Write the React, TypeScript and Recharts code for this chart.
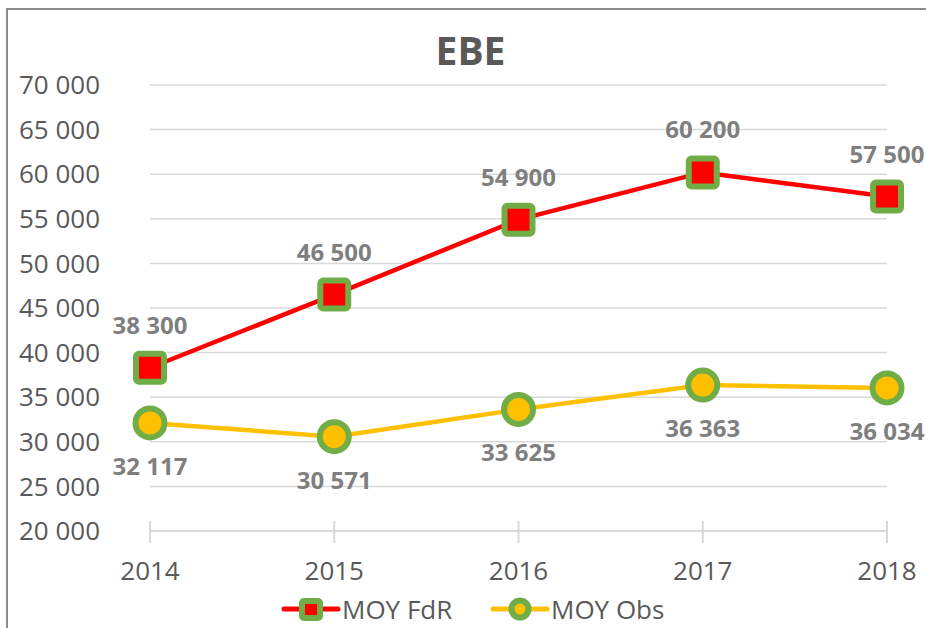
import React from 'react';
import { LineChart, Line, XAxis, YAxis, CartesianGrid, Legend, LabelList } from 'recharts';

const years = ['2014', '2015', '2016', '2017', '2018'];
const moyFdR = [38300, 46500, 54900, 60200, 57500];
const moyObs = [32117, 30571, 33625, 36363, 36034];
const yTicks = [20000, 25000, 30000, 35000, 40000, 45000, 50000, 55000, 60000, 65000, 70000];

const data = years.map((y, i) => ({ year: y, fdr: moyFdR[i], obs: moyObs[i] }));

const FONT = '"Open Sans", "Noto Sans", sans-serif';
const fmt = (v: number) => String(v).replace(/\B(?=(\d{3})+(?!\d))/g, ' ');

const GREEN = '#70AD47';
const RED = '#FF0000';
const YELLOW = '#FFC000';
const GRID = '#D9D9D9';

const SquareDot = (props: any) => {
  const { cx, cy } = props;
  if (cx == null || cy == null) return null;
  return <rect x={cx - 14} y={cy - 14} width={28} height={28} rx={3} fill={RED} stroke={GREEN} strokeWidth={6} />;
};

const CircleDot = (props: any) => {
  const { cx, cy } = props;
  if (cx == null || cy == null) return null;
  return <circle cx={cx} cy={cy} r={14.5} fill={YELLOW} stroke={GREEN} strokeWidth={6} />;
};

const labelAbove = (props: any) => {
  const { x, y, value } = props;
  return (
    <text x={x} y={y - 34} textAnchor="middle" fill="#7F7F7F" fontSize={24} fontWeight={700} fontFamily={FONT}>
      {fmt(value)}
    </text>
  );
};

const labelBelow = (props: any) => {
  const { x, y, value } = props;
  return (
    <text x={x} y={y + 52} textAnchor="middle" fill="#7F7F7F" fontSize={24} fontWeight={700} fontFamily={FONT}>
      {fmt(value)}
    </text>
  );
};

const XTick = (props: any) => {
  const { x, y, payload } = props;
  return (
    <g>
      <line x1={x} x2={x} y1={y - 10} y2={y + 12} stroke={GRID} strokeWidth={2} />
      <text x={x} y={y + 49} textAnchor="middle" fill="#595959" fontSize={26} fontFamily={FONT}>
        {payload.value}
      </text>
    </g>
  );
};

const LegendContent = () => (
  <svg width={926} height={40} style={{ display: 'block' }}>
    <g>
      <line x1={284} x2={338} y1={21} y2={21} stroke={RED} strokeWidth={5} strokeLinecap="round" />
      <rect x={302} y={13} width={18} height={17} rx={2} fill={RED} stroke={GREEN} strokeWidth={6} />
      <text x={342} y={31} fill="#595959" fontSize={26} fontFamily={FONT}>MOY FdR</text>
    </g>
    <g>
      <line x1={493} x2={547} y1={21} y2={21} stroke={YELLOW} strokeWidth={5} strokeLinecap="round" />
      <circle cx={520} cy={21} r={8.5} fill={YELLOW} stroke={GREEN} strokeWidth={6} />
      <text x={551} y={31} fill="#595959" fontSize={26} fontFamily={FONT}>MOY Obs</text>
    </g>
  </svg>
);

export default function App() {
  return (
    <div style={{ position: 'absolute', left: 0, top: 0, width: 926, height: 628, overflow: 'hidden', background: '#fff' }}>
      <div style={{ position: 'absolute', left: 6, top: 8, width: 1000, height: 800, border: '2px solid #8C8C8C', boxSizing: 'border-box' }} />
      <LineChart width={926} height={628} data={data} margin={{ top: 85, right: 39, bottom: 0, left: 0 }}>
        <CartesianGrid horizontal vertical={false} stroke={GRID} strokeWidth={1.5} />
        <XAxis
          dataKey="year"
          height={57}
          axisLine={{ stroke: GRID, strokeWidth: 2 }}
          tickLine={false}
          tickSize={0}
          tickMargin={0}
          tick={<XTick />}
          interval={0}
        />
        <YAxis
          width={150}
          domain={[20000, 70000]}
          ticks={yTicks}
          interval={0}
          axisLine={false}
          tickLine={false}
          tickSize={0}
          tickMargin={50}
          tickFormatter={fmt}
          tick={{ fontSize: 26, fill: '#595959', fontFamily: FONT }}
        />
        <Legend verticalAlign="bottom" height={40} content={<LegendContent />} wrapperStyle={{ left: 0, width: 926, bottom: 0 }} />
        <Line dataKey="fdr" name="MOY FdR" stroke={RED} strokeWidth={4.5} dot={<SquareDot />} activeDot={false} isAnimationActive={false}>
          <LabelList dataKey="fdr" content={labelAbove} />
        </Line>
        <Line dataKey="obs" name="MOY Obs" stroke={YELLOW} strokeWidth={4.5} dot={<CircleDot />} activeDot={false} isAnimationActive={false}>
          <LabelList dataKey="obs" content={labelBelow} />
        </Line>
      </LineChart>
      <svg width={926} height={100} style={{ position: 'absolute', left: 0, top: 0, pointerEvents: 'none' }}>
        <text x={470.5} y={65} textAnchor="middle" fill="#595959" fontSize={39} fontWeight={700} fontFamily={FONT}>EBE</text>
      </svg>
    </div>
  );
}
